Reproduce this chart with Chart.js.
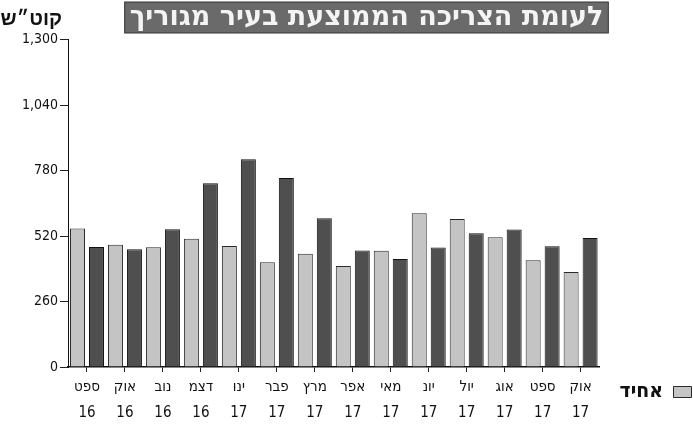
<!DOCTYPE html>
<html>
<head>
<meta charset="utf-8">
<script src="https://cdn.jsdelivr.net/npm/chart.js@4/dist/chart.umd.min.js"></script>
<style>
  html, body { margin: 0; padding: 0; background: #fff; }
  #wrap { width: 693px; height: 426px; position: relative; }
</style>
</head>
<body>
<div id="wrap"><canvas id="bar-chart"></canvas></div>
<script>
var months = ['ספט', 'אוק', 'נוב', 'דצמ', 'ינו', 'פבר', 'מרץ', 'אפר', 'מאי', 'יונ', 'יול', 'אוג', 'ספט', 'אוק']
var years = ['16', '16', '16', '16', '17', '17', '17', '17', '17', '17', '17', '17', '17', '17']

// ממוצע בעיר (אחיד)
var cityAverage = [550, 486, 476, 509, 481, 416, 450, 401, 462, 611, 588, 515, 424, 377]
// הצריכה שלך
var myUsage = [477, 468, 547, 730, 825, 751, 591, 463, 429, 475, 531, 546, 480, 512]

var yTicks = [0, 260, 520, 780, 1040, 1300]

var titleText = 'לעומת הצריכה הממוצעת בעיר מגוריך'
var unitText = 'קוט״ש'
var legendText = 'אחיד'

var fontFamily = "'DejaVu Sans Condensed', 'Liberation Sans Narrow', 'DejaVu Sans', sans-serif"
var titleFont = "'DejaVu Sans', sans-serif"

var labels = months.map(function (m, i) { return [m, years[i]] })

// banner behind the title + unit label at top left
var decorPlugin = {
    id: 'decor',
    beforeDraw: function (chart) {
        var ctx = chart.ctx
        var tb = chart.titleBlock
        ctx.save()
        ctx.font = 'bold 27px ' + titleFont
        var w = ctx.measureText(titleText).width
        var cx = (tb.left + tb.right) / 2
        ctx.fillStyle = '#6a6a6a'
        ctx.strokeStyle = '#333'
        ctx.lineWidth = 1
        ctx.fillRect(cx - w / 2 - 5, 2, w + 10, 31)
        ctx.strokeRect(cx - w / 2 - 5, 2, w + 10, 31)

        ctx.font = "bold 20px 'Liberation Sans', 'DejaVu Sans', sans-serif"
        ctx.fillStyle = '#111'
        ctx.textAlign = 'right'
        ctx.textBaseline = 'middle'
        ctx.fillText(unitText, 62, 19)
        ctx.restore()
    },
    afterLayout: function (chart) {
        // title sits a bit right of centre; legend goes to the right edge, on the tick label row
        var tb = chart.titleBlock
        tb.left += 20
        tb.right += 20
        var lg = chart.legend
        lg.left += 10
        lg.right += 10
        lg.top -= 12
        lg.bottom -= 12
    }
}

function createGraph() {
    var ctx = document.getElementById('bar-chart').getContext('2d')
    var barChart = new Chart(ctx, {
        type: 'bar',
        data: {
            labels: labels,
            datasets: [{
                label: legendText,
                data: cityAverage,
                backgroundColor: '#c4c4c4',
                borderColor: '#2a2a2a',
                borderWidth: 1
            }, {
                label: 'הצריכה שלך',
                data: myUsage,
                backgroundColor: '#4f4f4f',
                borderColor: '#111',
                borderWidth: 1
            }]
        },
        options: {
            responsive: true,
            maintainAspectRatio: false,
            animation: false,
            locale: 'en-US',
            datasets: {
                bar: { barPercentage: 0.79, categoryPercentage: 1.0 }
            },
            plugins: {
                title: {
                    display: true,
                    text: titleText,
                    color: '#f4f4f4',
                    font: { family: titleFont, size: 27, weight: 'bold', lineHeight: 1.1 },
                    padding: { top: 3, bottom: 7 }
                },
                legend: {
                    position: 'right',
                    align: 'end',
                    rtl: true,
                    labels: {
                        color: '#111',
                        boxWidth: 18,
                        boxHeight: 11,
                        padding: 11.5,
                        font: { family: fontFamily, size: 21, weight: 'bold' },
                        filter: function (item) { return item.datasetIndex === 0 }
                    }
                },
                tooltip: { enabled: false }
            },
            scales: {
                x: {
                    afterFit: function (scale) { scale.height = 59 },
                    grid: {
                        display: true,
                        drawOnChartArea: false,
                        offset: false,
                        tickLength: 5,
                        color: '#222'
                    },
                    border: { display: true, color: '#111', width: 1.5 },
                    ticks: {
                        color: '#111',
                        padding: 2,
                        maxRotation: 0,
                        autoSkip: false,
                        font: { family: fontFamily, size: 15, lineHeight: 1.733 }
                    }
                },
                y: {
                    min: 0,
                    max: 1300,
                    afterBuildTicks: function (scale) {
                        scale.ticks = yTicks.map(function (v) { return { value: v } })
                    },
                    afterFit: function (scale) { scale.width = 68 },
                    grid: {
                        display: true,
                        drawOnChartArea: false,
                        tickLength: 8,
                        color: '#222'
                    },
                    border: { display: true, color: '#111', width: 1 },
                    ticks: {
                        color: '#111',
                        padding: 2,
                        font: { family: fontFamily, size: 14 }
                    }
                }
            }
        },
        plugins: [decorPlugin]
    })
}

createGraph()
</script>
</body>
</html>
